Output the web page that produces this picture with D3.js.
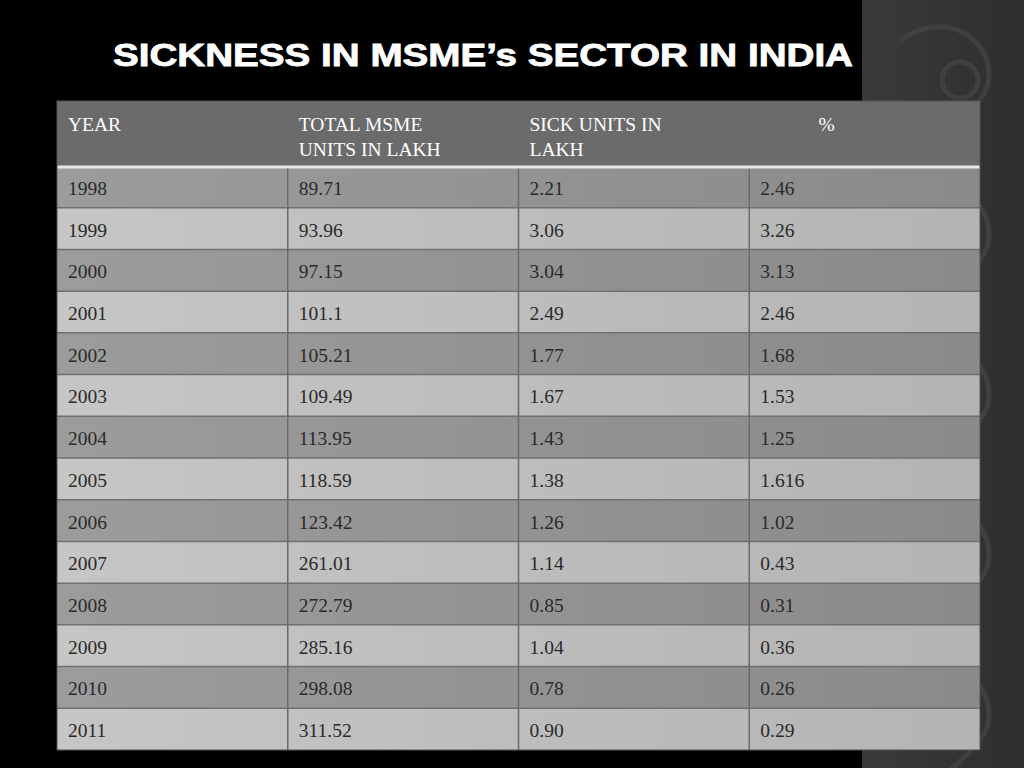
<!DOCTYPE html>
<html><head><meta charset="utf-8">
<script src="https://cdn.jsdelivr.net/npm/d3@7"></script>
<style>body{margin:0;background:#000;overflow:hidden}</style></head>
<body><svg id="c" width="1024" height="768"></svg>
<script>
const title = "SICKNESS IN MSME’s SECTOR IN INDIA";
const headers = [["YEAR"],["TOTAL MSME","UNITS IN LAKH"],["SICK UNITS IN","LAKH"],["%"]];
const years = ["1998","1999","2000","2001","2002","2003","2004","2005","2006","2007","2008","2009","2010","2011"];
const totalUnits = ["89.71","93.96","97.15","101.1","105.21","109.49","113.95","118.59","123.42","261.01","272.79","285.16","298.08","311.52"];
const sickUnits = ["2.21","3.06","3.04","2.49","1.77","1.67","1.43","1.38","1.26","1.14","0.85","1.04","0.78","0.90"];
const percent = ["2.46","3.26","3.13","2.46","1.68","1.53","1.25","1.616","1.02","0.43","0.31","0.36","0.26","0.29"];

const svg = d3.select("#c");
const defs = svg.append("defs");
function grad(id, c1, c2){
  const g = defs.append("linearGradient").attr("id",id).attr("x1","0").attr("x2","1").attr("y1","0").attr("y2","0");
  g.append("stop").attr("offset","0").attr("stop-color",c1);
  g.append("stop").attr("offset","1").attr("stop-color",c2);
}
grad("dk","#9c9c9c","#8a8a8a");
grad("lt","#c6c6c6","#b4b4b4");
grad("side","#3a3a3a","#2e2e2e");

svg.append("rect").attr("x",862).attr("y",0).attr("width",162).attr("height",768).attr("fill","url(#side)");
const sw = svg.append("g").attr("fill","none").attr("stroke","#444").attr("stroke-width",5).attr("opacity",0.8);
[40,200,360,520,680].forEach(yy=>{
  sw.append("path").attr("d",`M900 ${yy} C960 ${yy-40} 1010 ${yy+20} 980 ${yy+60} S 900 ${yy+110} 940 ${yy+150}`);
  sw.append("circle").attr("cx",960).attr("cy",yy+40).attr("r",18);
});

svg.append("text").attr("x",483).attr("y",66).attr("text-anchor","middle")
  .attr("font-family","Liberation Sans, Arial, sans-serif").attr("font-weight","900")
  .attr("font-size",31).attr("fill","#fff").attr("stroke","#fff").attr("stroke-width",0.8)
  .attr("textLength",740).attr("lengthAdjust","spacingAndGlyphs").text(title);

const x = d3.scaleBand().domain(d3.range(4)).range([57,980]);
const tableTop = 101, headH = 65;
const y = d3.scaleBand().domain(years).range([tableTop+headH,750]);
const rows = years.map((yr,i)=>[yr,totalUnits[i],sickUnits[i],percent[i]]);

svg.append("rect").attr("x",57).attr("y",tableTop).attr("width",923).attr("height",headH).attr("fill","#6b6b6c");
headers.forEach((h,i)=>{
  const t = svg.append("text").attr("font-family","Liberation Serif, serif").attr("font-size",19.5).attr("fill","#fff");
  if(i===3){ t.attr("x",x(i)+x.bandwidth()*0.3).attr("y",tableTop+30).text(h[0]); return; }
  h.forEach((line,k)=>t.append("tspan").attr("x",x(i)+11).attr("y",tableTop+30+k*25).text(line));
});

const g = svg.append("g");
rows.forEach((r,i)=>{
  g.append("rect").attr("x",57).attr("y",y(years[i])).attr("width",923).attr("height",y.bandwidth())
    .attr("fill", i%2===0 ? "url(#dk)" : "url(#lt)");
  r.forEach((v,j)=>{
    g.append("text").attr("x",x(j)+11).attr("y",y(years[i])+y.bandwidth()/2+8)
      .attr("font-family","Liberation Serif, serif").attr("font-size",19.5).attr("fill","#2a2a2a").text(v);
  });
});
years.slice(1).forEach(yr=>g.append("line").attr("x1",57).attr("x2",980).attr("y1",y(yr)).attr("y2",y(yr)).attr("stroke","#707070").attr("stroke-width",1.5));
[1,2,3].forEach(j=>g.append("line").attr("x1",x(j)).attr("x2",x(j)).attr("y1",tableTop+headH).attr("y2",750).attr("stroke","#6a6a6a").attr("stroke-width",1.5));
svg.append("line").attr("x1",57).attr("x2",980).attr("y1",tableTop+headH+1).attr("y2",tableTop+headH+1).attr("stroke","#e8e8e8").attr("stroke-width",3);
svg.append("rect").attr("x",57).attr("y",tableTop).attr("width",923).attr("height",649).attr("fill","none").attr("stroke","#555").attr("stroke-width",1);
</script></body></html>
